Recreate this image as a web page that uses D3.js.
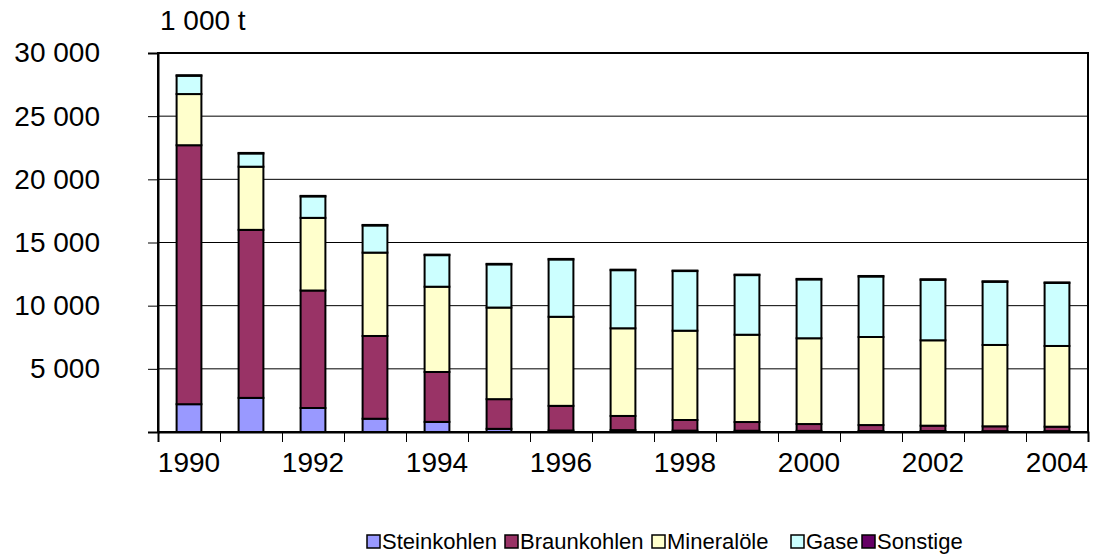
<!DOCTYPE html>
<html>
<head>
<meta charset="utf-8">
<script src="https://cdn.jsdelivr.net/npm/d3@7"></script>
<style>
  body { margin: 0; background: #fff; }
  svg { font-family: "Liberation Sans", Arial, sans-serif; }
</style>
</head>
<body>
<div class="container"></div>
<script>
const w = 1093;
const h = 557;

// data (1 000 t)
const years = ["1990","1991","1992","1993","1994","1995","1996","1997","1998","1999","2000","2001","2002","2003","2004"];
const steinkohlen = [2200, 2700, 1900, 1050, 800, 250, 120, 150, 110, 100, 90, 80, 80, 70, 70];
const braunkohlen = [20500, 13300, 9300, 6550, 3950, 2350, 1950, 1120, 840, 690, 540, 470, 420, 380, 350];
const mineraloele = [4050, 5000, 5750, 6600, 6750, 7250, 7050, 6940, 7070, 6910, 6790, 6970, 6760, 6440, 6390];
const gase = [1450, 1050, 1700, 2150, 2500, 3420, 4540, 4600, 4720, 4720, 4660, 4790, 4790, 5000, 4990];
const sonstige = [40, 40, 40, 40, 40, 40, 40, 40, 40, 40, 40, 40, 40, 40, 40];
const yTicks = [0, 5000, 10000, 15000, 20000, 25000, 30000];

const seriesNames = ["Steinkohlen","Braunkohlen","Mineralöle","Gase","Sonstige"];
const seriesData = [steinkohlen, braunkohlen, mineraloele, gase, sonstige];
const colors = ["#9999ff","#993366","#ffffcc","#ccffff","#660066"];

const plotL = 158, plotR = 1088, plotT = 53, plotB = 432;

const rows = years.map((y, i) => {
  const r = { year: y };
  seriesNames.forEach((s, k) => r[s] = seriesData[k][i]);
  return r;
});
const stacked = d3.stack().keys(seriesNames)(rows);

const svg = d3.select(".container")
  .append("svg")
  .attr("width", w)
  .attr("height", h);

const xScale = d3.scaleBand()
  .domain(years)
  .range([plotL, plotR])
  .paddingInner(0.6)
  .paddingOuter(0.3);

const xIdx = d3.scaleLinear().domain([0, years.length]).range([plotL, plotR]);

const yScale = d3.scaleLinear()
  .domain([0, 30000])
  .range([plotB, plotT]);

const fmt = d => d === 0 ? "" : d3.format(",")(d).replace(",", " ");

// gridlines
svg.append("g")
  .selectAll("line")
  .data(yTicks.filter(d => d > 0))
  .enter()
  .append("line")
  .attr("x1", plotL).attr("x2", plotR)
  .attr("y1", d => yScale(d)).attr("y2", d => yScale(d))
  .attr("stroke", "#000")
  .attr("stroke-width", 1);

// plot border
svg.append("rect")
  .attr("x", plotL).attr("y", plotT)
  .attr("width", plotR - plotL).attr("height", plotB - plotT)
  .attr("fill", "none")
  .attr("stroke", "#000")
  .attr("stroke-width", 2);

// bars
svg.append("g")
  .selectAll("g")
  .data(stacked)
  .enter()
  .append("g")
  .attr("fill", (d, i) => colors[i])
  .selectAll("rect")
  .data(d => d)
  .enter()
  .append("rect")
  .attr("x", d => xScale(d.data.year))
  .attr("width", xScale.bandwidth())
  .attr("y", d => yScale(d[1]))
  .attr("height", d => yScale(d[0]) - yScale(d[1]))
  .attr("stroke", "#000")
  .attr("stroke-width", 2);

// y axis
const yAxis = d3.axisLeft(yScale).tickValues(yTicks).tickSize(10).tickPadding(48).tickFormat(fmt);
const gy = svg.append("g")
  .attr("transform", "translate(" + plotL + ",0)")
  .call(yAxis);
gy.select(".domain").attr("stroke-width", 2);
gy.selectAll("text").attr("font-size", 28).attr("fill", "#000").attr("font-family", "Liberation Sans, Arial, sans-serif");

// x axis ticks at category boundaries
const gx = svg.append("g")
  .attr("transform", "translate(0," + plotB + ")")
  .call(d3.axisBottom(xIdx).tickValues(d3.range(0, years.length + 1)).tickSize(10).tickFormat(""));
gx.select(".domain").attr("stroke-width", 2);

// x labels
svg.append("g")
  .attr("transform", "translate(0," + plotB + ")")
  .call(d3.axisBottom(xScale).tickSize(0).tickPadding(20).tickFormat((d, i) => i % 2 === 0 ? d : ""))
  .call(g => g.select(".domain").remove())
  .selectAll("text")
  .attr("font-size", 28)
  .attr("fill", "#000")
  .attr("font-family", "Liberation Sans, Arial, sans-serif");

// unit label
svg.append("text")
  .attr("x", 160)
  .attr("y", 30)
  .attr("font-size", 28)
  .text("1 000 t");

// legend
const legendX = [367, 505, 652, 791, 862];
const legend = svg.append("g")
  .selectAll("g")
  .data(seriesNames)
  .enter()
  .append("g")
  .attr("transform", (d, i) => "translate(" + legendX[i] + ",535)");
legend.append("rect")
  .attr("width", 13).attr("height", 13)
  .attr("fill", (d, i) => colors[i])
  .attr("stroke", "#000")
  .attr("stroke-width", 1.5);
legend.append("text")
  .attr("x", 15)
  .attr("y", 14)
  .attr("font-size", 22)
  .text(d => d);
</script>
</body>
</html>
